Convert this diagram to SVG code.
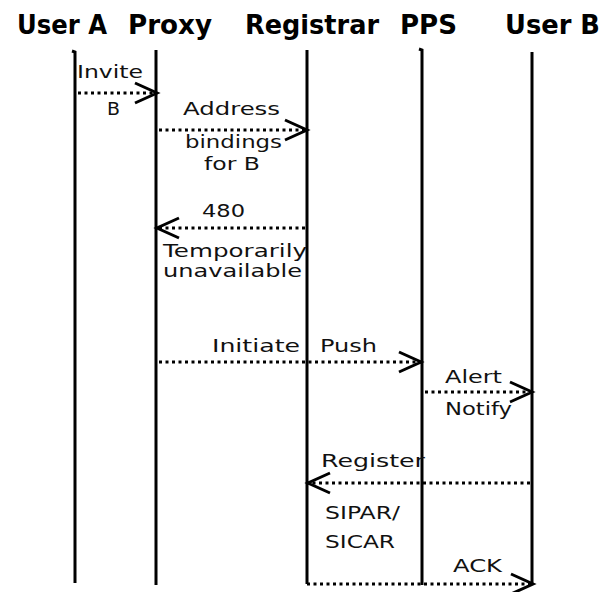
<svg xmlns="http://www.w3.org/2000/svg" width="602" height="592" viewBox="0 0 602 592">
<style>
.title{font-family:"DejaVu Sans","Liberation Sans",sans-serif;font-weight:bold;font-size:26px;fill:#000}
.lbl{font-family:"DejaVu Sans","Liberation Sans",sans-serif;font-size:17px;fill:#111}
.life{stroke:#000;stroke-width:3;fill:none}
.msg{stroke:#000;stroke-width:3;stroke-dasharray:3 3.5;fill:none;marker-end:url(#arr)}
</style>
<defs>
<marker id="arr" markerUnits="userSpaceOnUse" viewBox="-26 -13 30 26" refX="0" refY="0" markerWidth="30" markerHeight="26" orient="auto" overflow="visible">
<path d="M -22 -10 L 0 0 L -22 10" fill="none" stroke="#000" stroke-width="3"/>
</marker>
</defs>
<rect width="602" height="592" fill="#fff"/>
<g id="userA">
<text class="title" x="17" y="34" textLength="90" lengthAdjust="spacingAndGlyphs">User A</text>
<path class="life" d="M72 51 L75 52 L75 583"/>
</g>
<g id="proxy">
<text class="title" x="128" y="34" textLength="84" lengthAdjust="spacingAndGlyphs">Proxy</text>
<path class="life" d="M156 50 L156 585"/>
</g>
<g id="registrar">
<text class="title" x="245" y="34" textLength="134" lengthAdjust="spacingAndGlyphs">Registrar</text>
<path class="life" d="M307 50 L307 584"/>
</g>
<g id="pps">
<text class="title" x="400" y="34" textLength="57" lengthAdjust="spacingAndGlyphs">PPS</text>
<path class="life" d="M419 49 L422 50 L422 585"/>
</g>
<g id="userB">
<text class="title" x="505" y="34" textLength="95" lengthAdjust="spacingAndGlyphs">User B</text>
<path class="life" d="M532 52 L532 585"/>
</g>
<g id="connectors">
<path class="msg" d="M78 93 L157 93"/>
<path class="msg" d="M159 130 L307 130"/>
<path class="msg" d="M305 228 L157 228"/>
<path class="msg" d="M159 362 L421 362"/>
<path class="msg" d="M425 392 L532 392"/>
<path class="msg" d="M530 483 L308 483"/>
<path class="msg" d="M307 584 L533 584"/>
</g>
<g id="labels">
<text class="lbl" x="77" y="78" textLength="66" lengthAdjust="spacingAndGlyphs">Invite</text>
<text class="lbl" x="107" y="115" textLength="13" lengthAdjust="spacingAndGlyphs">B</text>
<text class="lbl" x="183" y="115" textLength="97" lengthAdjust="spacingAndGlyphs">Address</text>
<text class="lbl" x="185" y="148" textLength="97" lengthAdjust="spacingAndGlyphs">bindings</text>
<text class="lbl" x="204" y="170" textLength="56" lengthAdjust="spacingAndGlyphs">for B</text>
<text class="lbl" x="202" y="217" textLength="43" lengthAdjust="spacingAndGlyphs">480</text>
<text class="lbl" x="163" y="257" textLength="144" lengthAdjust="spacingAndGlyphs">Temporarily</text>
<text class="lbl" x="163" y="277" textLength="139" lengthAdjust="spacingAndGlyphs">unavailable</text>
<text class="lbl" x="212" y="352" textLength="88" lengthAdjust="spacingAndGlyphs">Initiate</text>
<text class="lbl" x="320" y="352" textLength="57" lengthAdjust="spacingAndGlyphs">Push</text>
<text class="lbl" x="445" y="383" textLength="57" lengthAdjust="spacingAndGlyphs">Alert</text>
<text class="lbl" x="445" y="415" textLength="67" lengthAdjust="spacingAndGlyphs">Notify</text>
<text class="lbl" x="321" y="467" textLength="104" lengthAdjust="spacingAndGlyphs">Register</text>
<text class="lbl" x="325" y="519" textLength="75" lengthAdjust="spacingAndGlyphs">SIPAR/</text>
<text class="lbl" x="325" y="548" textLength="70" lengthAdjust="spacingAndGlyphs">SICAR</text>
<text class="lbl" x="453" y="572" textLength="49" lengthAdjust="spacingAndGlyphs">ACK</text>
</g>
</svg>
